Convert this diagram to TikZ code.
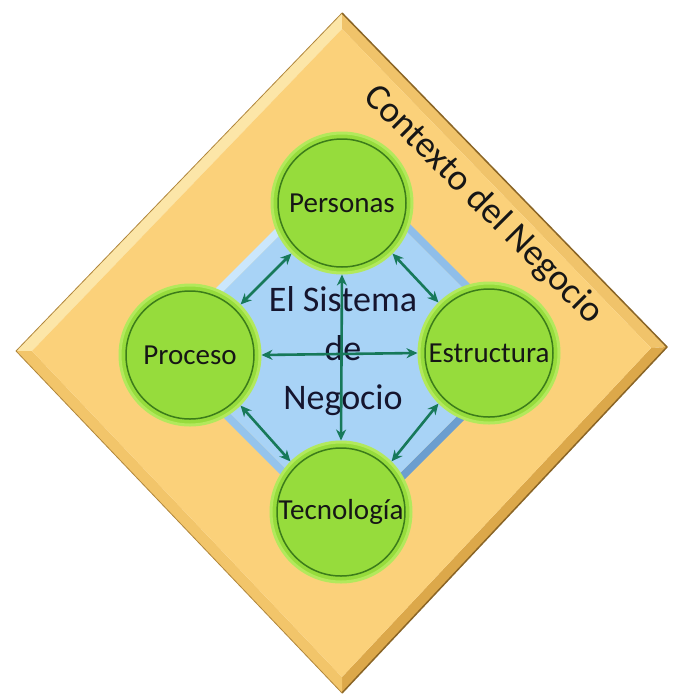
\documentclass[tikz,border=0pt]{standalone}
\usepackage{fontspec}
\setmainfont{Carlito}
\usetikzlibrary{arrows.meta}
\definecolor{faceY}{HTML}{FBD17A}
\definecolor{bevTL}{HTML}{FCE6A8}
\definecolor{bevTR}{HTML}{F0C36A}
\definecolor{bevBR}{HTML}{DCA84A}
\definecolor{bevBL}{HTML}{F2C56A}
\definecolor{edgeD}{HTML}{8A6526}
\definecolor{faceB}{HTML}{A8D3F6}
\definecolor{bbTL}{HTML}{CBE7FC}
\definecolor{bbTR}{HTML}{8FBEE9}
\definecolor{bbBR}{HTML}{6C9ECF}
\definecolor{bbBL}{HTML}{95C4EC}
\definecolor{greenF}{HTML}{96DC3C}
\definecolor{greenR}{HTML}{B2E95C}
\definecolor{greenD}{HTML}{3C7C1A}
\definecolor{arrowC}{HTML}{17795A}
\definecolor{txt}{HTML}{161616}
\definecolor{txtB}{HTML}{15152E}
\begin{document}
\begin{tikzpicture}[x=1pt,y=-1pt,
  bubble/.style={circle, minimum size=140pt, inner sep=0pt, fill=greenF, draw=greenR, line width=3pt,
    text=txt, font=\fontsize{29}{34}\selectfont,
    path picture={\draw[greenD, line width=1.5pt] (path picture bounding box.center) circle[radius=64pt];}},
  conn/.style={draw=arrowC, line width=2.6pt, {Stealth[length=11pt,width=10pt]}-{Stealth[length=11pt,width=10pt]}}
]
\useasboundingbox (0,0) rectangle (679,697);
% outer diamond
\coordinate (oT) at (342,13);
\coordinate (oR) at (667,347);
\coordinate (oB) at (342,693);
\coordinate (oL) at (16,351);
\coordinate (iT) at (342,29);
\coordinate (iR) at (651,348);
\coordinate (iB) at (342,677);
\coordinate (iL) at (32,351);
\fill[bevTL] (oT) -- (oL) -- (iL) -- (iT) -- cycle;
\fill[bevTR] (oT) -- (oR) -- (iR) -- (iT) -- cycle;
\fill[bevBR] (oR) -- (oB) -- (iB) -- (iR) -- cycle;
\fill[bevBL] (oB) -- (oL) -- (iL) -- (iB) -- cycle;
\fill[faceY] (iT) -- (iR) -- (iB) -- (iL) -- cycle;
\draw[edgeD, line width=1.5pt, line join=round] (oT) -- (oR) -- (oB);
\draw[bevBR!80!black, line width=0.8pt, line join=round] (oB) -- (oL) -- (oT);
% blue diamond
\coordinate (bT) at (345,159);
\coordinate (bR) at (535,349);
\coordinate (bB) at (345,539);
\coordinate (bL) at (155,349);
\coordinate (cT) at (345,170);
\coordinate (cR) at (524,349);
\coordinate (cB) at (345,528);
\coordinate (cL) at (166,349);
\fill[bbTL] (bT) -- (bL) -- (cL) -- (cT) -- cycle;
\fill[bbTR] (bT) -- (bR) -- (cR) -- (cT) -- cycle;
\fill[bbBR] (bR) -- (bB) -- (cB) -- (cR) -- cycle;
\fill[bbBL] (bB) -- (bL) -- (cL) -- (cB) -- cycle;
\fill[faceB] (cT) -- (cR) -- (cB) -- (cL) -- cycle;
% circles
\node[bubble] (per) at (342,203) {Personas};
\node[bubble] (pro) at (190,355) {Proceso};
\node[bubble] (est) at (489,353) {Estructura};
\node[bubble] (tec) at (341,512) {Tecnología};
% central text
\node[align=center, text=txtB, font=\fontsize{36}{49}\selectfont] (sys) at (343,351) {El Sistema\\de\\Negocio};
% context text
\node[rotate=-45, text=txt, font=\fontsize{37}{40}\selectfont] (ctx) at (483,205) {Contexto del Negocio};
% connectors
\draw[conn] (per.south) -- (tec.north);
\draw[conn] (pro.east) -- (est.west);
\draw[conn] (per.225) -- (pro.45);
\draw[conn] (per.-45) -- (est.135);
\draw[conn] (pro.-45) -- (tec.135);
\draw[conn] (est.-135) -- (tec.45);
\end{tikzpicture}
\end{document}
